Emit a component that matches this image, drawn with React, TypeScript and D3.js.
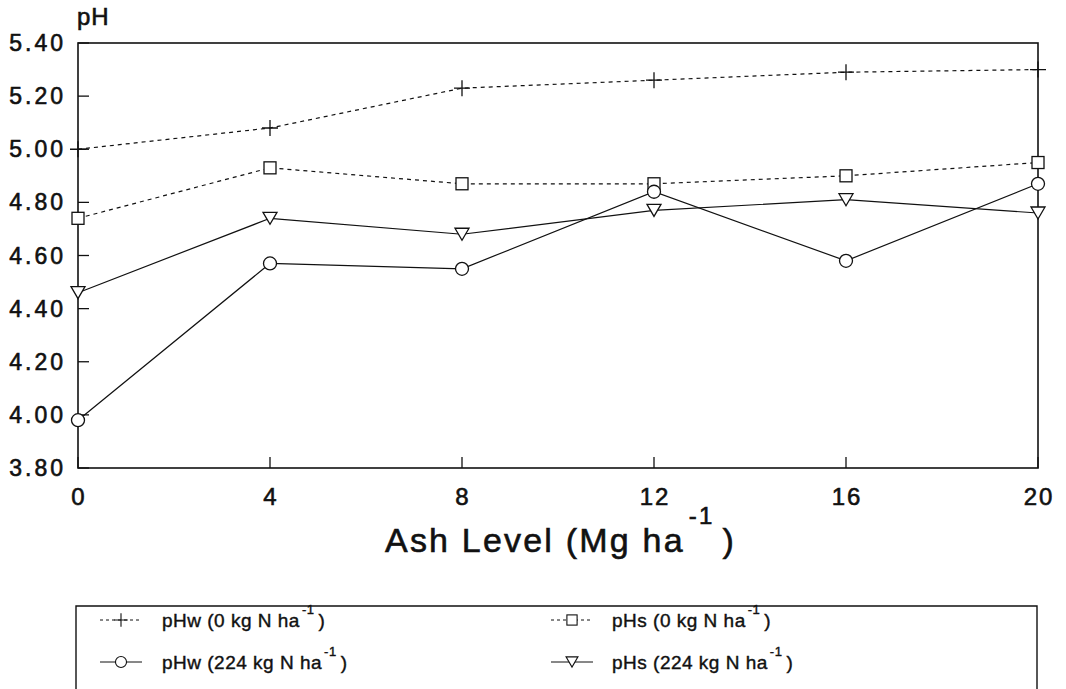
import * as d3 from 'd3';

const ashLevels = [0, 4, 8, 12, 16, 20];
const pHw0N = [5.0, 5.08, 5.23, 5.26, 5.29, 5.3];
const pHs0N = [4.74, 4.93, 4.87, 4.87, 4.9, 4.95];
const pHw224N = [3.98, 4.57, 4.55, 4.84, 4.58, 4.87];
const pHs224N = [4.46, 4.74, 4.68, 4.77, 4.81, 4.76];
const yTicks = [3.8, 4.0, 4.2, 4.4, 4.6, 4.8, 5.0, 5.2, 5.4];

const series = [
  { name: 'pHw', rate: '0', values: pHw0N, marker: 'plus', dashed: true },
  { name: 'pHs', rate: '0', values: pHs0N, marker: 'square', dashed: true },
  { name: 'pHw', rate: '224', values: pHw224N, marker: 'circle', dashed: false },
  { name: 'pHs', rate: '224', values: pHs224N, marker: 'triangle', dashed: false },
];

const W = 1066;
const H = 689;
const font = '"Liberation Sans", Arial, sans-serif';
const ink = '#111';

function Marker({ type, x, y }: { type: string; x: number; y: number }) {
  const st = { fill: 'white', stroke: ink, strokeWidth: 1.3 };
  if (type === 'plus') {
    return (
      <path d={`M${x - 8},${y}H${x + 8}M${x},${y - 8}V${y + 8}`} stroke={ink} strokeWidth={1.3} fill="none" />
    );
  }
  if (type === 'square') {
    return <rect x={x - 6} y={y - 6} width={12} height={12} {...st} />;
  }
  if (type === 'circle') {
    return <circle cx={x} cy={y} r={6.5} {...st} />;
  }
  return <path d={`M${x - 7},${y - 6}H${x + 7}L${x},${y + 6}Z`} {...st} />;
}

export default function App() {
  const left = 78, right = 1038, top = 43, bottom = 468;
  const x = d3.scaleLinear().domain([0, 20]).range([left, right]);
  const y = d3.scaleLinear().domain([3.8, 5.4]).range([bottom, top]);
  const line = d3.line<number>().x((_, i) => x(ashLevels[i])).y(d => y(d));

  const legendPos = [
    { sx: 121, tx: 162, cy: 620 },
    { sx: 572, tx: 612, cy: 620 },
    { sx: 121, tx: 162, cy: 662 },
    { sx: 572, tx: 612, cy: 662 },
  ];

  const heavy = { stroke: ink, strokeWidth: 0.6, fill: ink };

  return (
    <svg width={W} height={H} style={{ position: 'absolute', left: 0, top: 0, background: 'white' }} fontFamily={font}>
      <rect x={0} y={0} width={W} height={H} fill="white" />
      <rect x={left} y={top} width={right - left} height={bottom - top} fill="none" stroke={ink} strokeWidth={1.6} />
      {yTicks.map(t => (
        <g key={t}>
          <line x1={left} x2={left + 11} y1={y(t)} y2={y(t)} stroke={ink} strokeWidth={1.3} />
          <text x={66} y={y(t) + 8} textAnchor="end" fontSize={23} letterSpacing={3} {...heavy}>{t.toFixed(2)}</text>
        </g>
      ))}
      {ashLevels.map(t => (
        <g key={t}>
          <line x1={x(t)} x2={x(t)} y1={bottom} y2={bottom - 11} stroke={ink} strokeWidth={1.3} />
          <text x={x(t) + 1} y={505} textAnchor="middle" fontSize={24} letterSpacing={2} {...heavy}>{t}</text>
        </g>
      ))}
      <text x={77} y={25} fontSize={24} letterSpacing={1} {...heavy}>pH</text>
      <text x={385} y={552} fontSize={34} letterSpacing={2.2} {...heavy}>
        Ash Level (Mg ha
        <tspan dy={-28} dx={4} fontSize={24}>-1</tspan>
        <tspan dy={28} dx={8}>)</tspan>
      </text>
      {series.map((s, si) => (
        <g key={si}>
          <path d={line(s.values) || ''} fill="none" stroke={ink} strokeWidth={1.2} strokeDasharray={s.dashed ? '4,4' : undefined} />
          {s.values.map((v, i) => (
            <Marker key={i} type={s.marker} x={x(ashLevels[i])} y={y(v)} />
          ))}
        </g>
      ))}
      <path d={`M76,${H}V606H1037V${H}`} fill="none" stroke={ink} strokeWidth={1.4} />
      {series.map((s, i) => {
        const p = legendPos[i];
        return (
          <g key={i}>
            <line x1={p.sx - 21} x2={p.sx + 21} y1={p.cy} y2={p.cy} stroke={ink} strokeWidth={1} strokeDasharray={s.dashed ? '3,3' : undefined} />
            <g transform={`translate(${p.sx},${p.cy}) scale(0.85) translate(${-p.sx},${-p.cy})`}>
              <Marker type={s.marker} x={p.sx} y={p.cy} />
            </g>
            <text x={p.tx} y={p.cy + 7} fontSize={19} letterSpacing={0.5} {...heavy} strokeWidth={0.4}>
              {`${s.name} (${s.rate} kg N ha`}
              <tspan dy={-13} dx={2} fontSize={13}>-1</tspan>
              <tspan dy={13} dx={4}>)</tspan>
            </text>
          </g>
        );
      })}
    </svg>
  );
}
